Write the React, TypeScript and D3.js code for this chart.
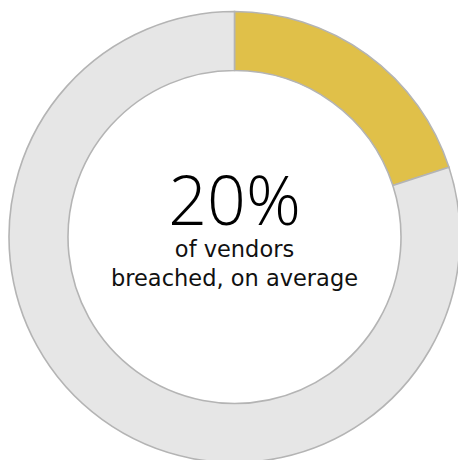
import React from "react";
import * as d3 from "d3";

const categories = ["Breached", "Not breached"];
const values = [20, 80];
const colors = ["#E0C049", "#E6E6E6"];
const headline = "20%";
const subLines = ["of vendors", "breached, on average"];

export default function App() {
  const width = 458;
  const height = 460;
  const cx = 234.5;
  const cy = 237;
  const outer = 225.5;
  const inner = 166.5;
  const pie = d3.pie<number>().sort(null).value((d) => d);
  const arcs = pie(values);
  const arc = d3.arc<d3.PieArcDatum<number>>().innerRadius(inner).outerRadius(outer);
  return (
    <svg
      width={width}
      height={height}
      style={{ position: "absolute", left: 0, top: 0, background: "#fff" }}
    >
      <g transform={`translate(${cx},${cy})`}>
        {arcs.map((a, i) => (
          <path
            key={categories[i]}
            d={arc(a) || ""}
            fill={colors[i]}
            stroke="#B4B4B4"
            strokeWidth={1.6}
          />
        ))}
        <text
          x={0}
          y={-12}
          textAnchor="middle"
          fontFamily="'Open Sans', sans-serif"
          fontWeight={300}
          fontSize={68}
          fill="#000"
        >
          {headline}
        </text>
        <text
          textAnchor="middle"
          fontFamily="'DejaVu Sans', sans-serif"
          fontWeight={400}
          fontSize={22.5}
          fill="#111"
        >
          <tspan x={0} y={20}>{subLines[0]}</tspan>
          <tspan x={0} y={49}>{subLines[1]}</tspan>
        </text>
      </g>
    </svg>
  );
}
